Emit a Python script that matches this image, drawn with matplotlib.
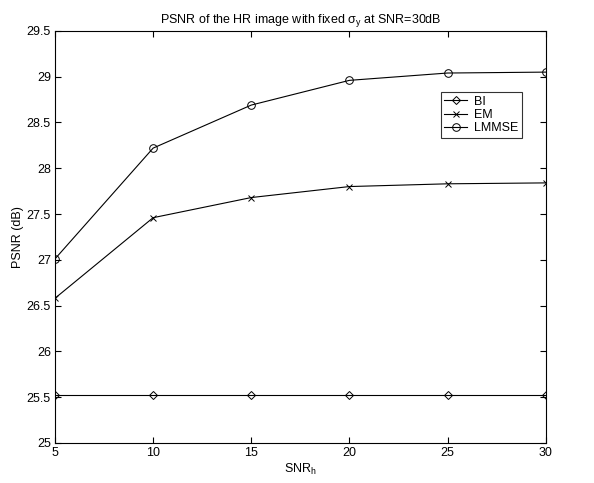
#!/usr/bin/env python3

import matplotlib
matplotlib.use('Agg')
import matplotlib.pyplot as plt

snr_h = [5, 10, 15, 20, 25, 30]
bi = [25.52, 25.52, 25.52, 25.52, 25.52, 25.52]
em = [26.58, 27.46, 27.68, 27.80, 27.83, 27.84]
lmmse = [27.01, 28.22, 28.69, 28.96, 29.04, 29.05]

yticks = [25, 25.5, 26, 26.5, 27, 27.5, 28, 28.5, 29, 29.5]
xticks = [5, 10, 15, 20, 25, 30]


def main():
    plt.rcParams['font.family'] = ['Liberation Sans', 'DejaVu Sans']
    plt.rcParams['mathtext.fontset'] = 'custom'
    plt.rcParams['mathtext.rm'] = 'Liberation Sans'
    plt.rcParams['mathtext.it'] = 'Liberation Sans'

    fig = plt.figure(figsize=(5.94, 4.83), dpi=100)
    ax = fig.add_axes([0.0926, 0.083, 0.826, 0.853])

    style = dict(color='black', linewidth=0.8, markerfacecolor='none',
                 markeredgewidth=0.7)
    ax.plot(snr_h, bi, marker='D', markersize=4.5, label='BI', **style)
    ax.plot(snr_h, em, marker='x', markersize=4, label='EM', **style)
    ax.plot(snr_h, lmmse, marker='o', markersize=5.5, label='LMMSE', **style)

    ax.set_xlim(5, 30)
    ax.set_ylim(25, 29.5)
    ax.set_xticks(xticks)
    ax.set_xticklabels([str(t) for t in xticks])
    ax.set_yticks(yticks)
    ax.set_yticklabels([('%g' % t) for t in yticks])
    ax.tick_params(direction='in', length=4, width=0.8, labelsize=9, top=True, right=True,
                   pad=3)
    for s in ax.spines.values():
        s.set_linewidth(0.8)

    ax.set_title(r'PSNR of the HR image with fixed $\sigma_y$ at SNR=30dB', fontsize=9, pad=6)
    ax.set_xlabel(r'SNR$_h$', fontsize=9, labelpad=2)
    ax.set_ylabel('PSNR (dB)', fontsize=9, labelpad=2)

    leg = ax.legend(loc='upper left', bbox_to_anchor=(0.786, 0.852), fontsize=9,
                    frameon=True, fancybox=False, edgecolor='black', handlelength=1.8,
                    handletextpad=0.6, borderpad=0.3, labelspacing=0.1, borderaxespad=0)
    leg.get_frame().set_linewidth(0.8)

    fig.savefig('out.png', dpi=100)


if __name__ == "__main__":
    main()
